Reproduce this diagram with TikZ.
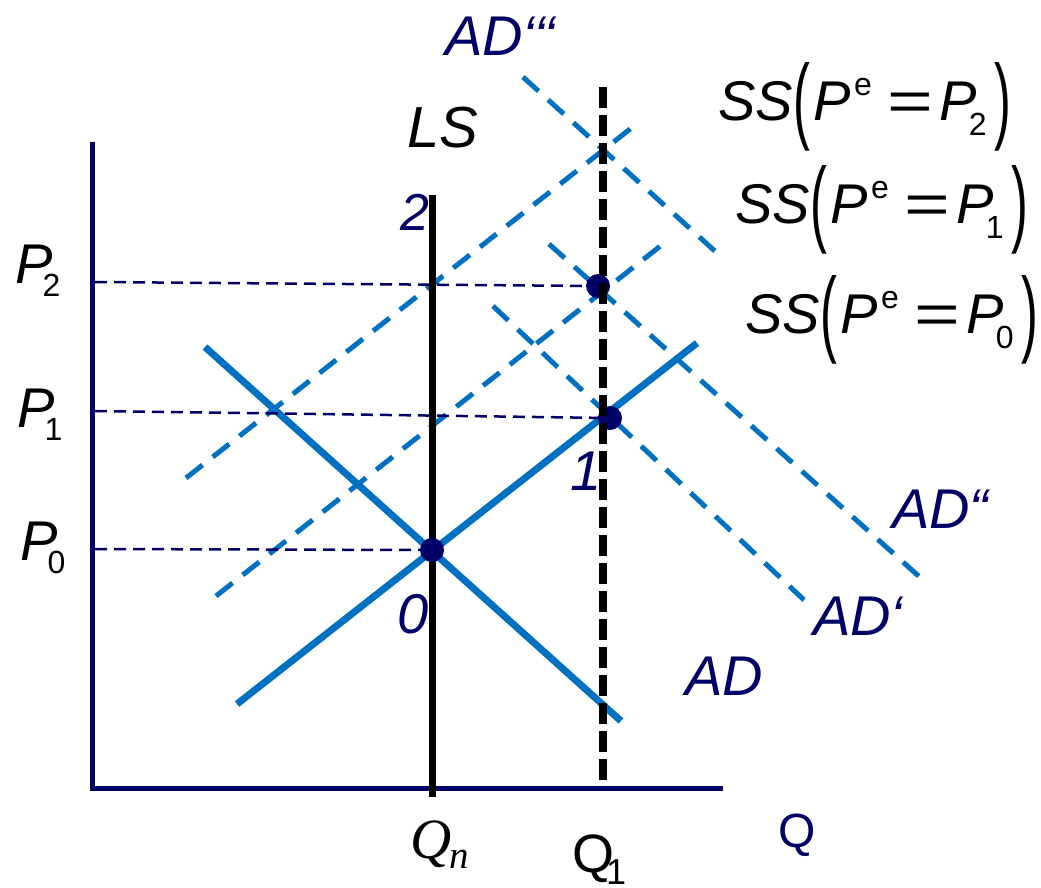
\documentclass[tikz,border=0pt]{standalone}
\usepackage{fontspec}
\setmainfont{Liberation Sans}
\newfontfamily\timesfont{Liberation Serif}
\usepackage{graphicx}
\definecolor{navy}{RGB}{0,0,102}
\definecolor{lineblue}{RGB}{0,112,192}
\newcommand{\myfs}[1]{\fontsize{#1pt}{#1pt}\selectfont}
\newcommand{\bigparen}[1]{\raisebox{-11pt}{\scalebox{0.9}[1.7]{#1}}}
\newcommand{\sslabel}[1]{\myfs{56}\textit{SS}\kern1pt\bigparen{(}\kern3pt\textit{P}\kern3pt\raisebox{25pt}{\myfs{32}e}\kern16pt\scalebox{1.4}[1]{=}\kern6pt\textit{P}\kern-8pt\raisebox{-15pt}{\myfs{32}#1}\kern8pt\bigparen{)}}
\newcommand{\plabel}[1]{\myfs{56}\textit{P}\kern-10pt\raisebox{-13pt}{\myfs{32}#1}}
\begin{document}
\begin{tikzpicture}[x=1pt,y=-1pt,
  axis/.style={navy,line width=5pt,line join=miter},
  curve/.style={lineblue,line width=7pt},
  shiftcurve/.style={lineblue,line width=5pt,dash pattern=on 21pt off 13pt},
  guide/.style={navy,line width=2.5pt,dash pattern=on 12pt off 7pt},
  lsline/.style={black,line width=7pt},
  qline/.style={black,line width=8pt,dash pattern=on 21pt off 7pt},
  dot/.style={circle,fill=navy,inner sep=0pt,minimum size=24pt},
  lbl/.style={inner sep=0pt,anchor=base west},
  navylbl/.style={lbl,text=navy,font=\myfs{56}\itshape}]
\useasboundingbox (0,0) rectangle (1041,887);
% axes
\coordinate (ytop) at (92,142);
\coordinate (orig) at (92,788);
\coordinate (xend) at (723,788);
\draw[axis] (ytop) -- (orig) -- (xend);
% curves
\coordinate (ad0a) at (205,347); \coordinate (ad0b) at (621,721);
\coordinate (ss0a) at (237,704); \coordinate (ss0b) at (697,343);
\coordinate (ss1a) at (216,596); \coordinate (ss1b) at (668,240);
\coordinate (ss2a) at (186,478); \coordinate (ss2b) at (639,122);
\coordinate (ad1a) at (493,306); \coordinate (ad1b) at (804,600);
\coordinate (ad2a) at (549,244); \coordinate (ad2b) at (923,580);
\coordinate (ad3a) at (523,77);  \coordinate (ad3b) at (717,253);
\draw[shiftcurve] (ss1a) -- (ss1b);
\draw[shiftcurve] (ss2a) -- (ss2b);
\draw[shiftcurve] (ad1a) -- (ad1b);
\draw[shiftcurve] (ad2a) -- (ad2b);
\draw[shiftcurve] (ad3a) -- (ad3b);
\draw[curve] (ad0a) -- (ad0b);
\draw[curve] (ss0a) -- (ss0b);
% guides
\coordinate (g2a) at (95,282); \coordinate (g2b) at (598,286);
\coordinate (g1a) at (95,411); \coordinate (g1b) at (610,418);
\coordinate (g0a) at (95,549); \coordinate (g0b) at (432,550);
\draw[guide] (g2a) -- (g2b);
\draw[guide] (g1a) -- (g1b);
\draw[guide] (g0a) -- (g0b);
% LS
\coordinate (lstop) at (432,195); \coordinate (lsbot) at (432,797);
\draw[lsline] (lstop) -- (lsbot);
% dots
\node[dot] (pt0) at (432,550) {};
\node[dot] (pt1) at (610,418) {};
\node[dot] (pt2) at (598,286) {};
% Q1 line
\coordinate (q1top) at (603,87); \coordinate (q1bot) at (603,781);
\draw[qline] (q1top) -- (q1bot);
% labels
\node[lbl] (lP2) at (15,283) {\plabel{2}};
\node[lbl] (lP1) at (17,427) {\plabel{1}};
\node[lbl] (lP0) at (20,560) {\plabel{0}};
\node[lbl,font=\myfs{58}\itshape] (lLS) at (407,147) {LS};
\node[navylbl,font=\myfs{52}\itshape] (l2) at (400,230) {2};
\node[navylbl] (l0) at (397,633) {0};
\node[navylbl] (l1) at (570,490) {1};
\node[navylbl] (lAD3) at (445,55) {AD‘‘‘};
\node[navylbl] (lAD2) at (892,528) {AD“};
\node[navylbl] (lAD1) at (813,635) {AD‘};
\node[navylbl] (lAD0) at (685,695) {AD};
\node[lbl] (lss2) at (718,120) {\sslabel{2}};
\node[lbl] (lss1) at (735,223) {\sslabel{1}};
\node[lbl] (lss0) at (745,333) {\sslabel{0}};
\node[lbl] (lQn) at (410,858) {\timesfont\itshape\myfs{57}Q\kern-2pt\raisebox{-10pt}{\myfs{39}n}};
\node[lbl] (lQ1) at (572,872) {\myfs{54}Q\kern-8pt\raisebox{-12pt}{\myfs{36}1}};
\node[lbl,text=navy,font=\myfs{48}] (lQ) at (778,847) {Q};
\end{tikzpicture}
\end{document}
